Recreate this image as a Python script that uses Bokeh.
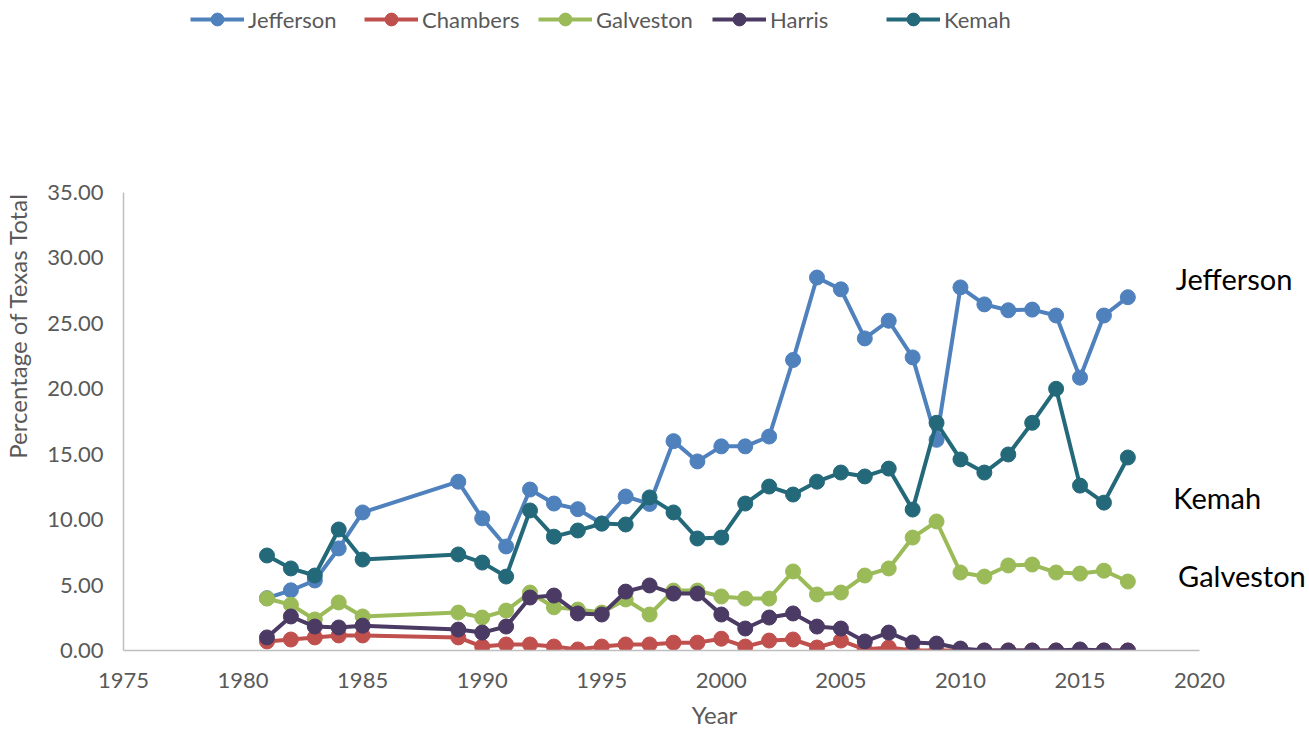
from bokeh.plotting import figure
from bokeh.models import Range1d, FixedTicker, NumeralTickFormatter, Legend, LegendItem, Label
from bokeh.embed import file_html
from bokeh.resources import INLINE

years = [1981, 1982, 1983, 1984, 1985, 1989, 1990, 1991, 1992, 1993, 1994, 1995, 1996, 1997,
         1998, 1999, 2000, 2001, 2002, 2003, 2004, 2005, 2006, 2007, 2008, 2009, 2010, 2011,
         2012, 2013, 2014, 2015, 2016, 2017]

jefferson = [4.0, 4.6, 5.35, 7.8, 10.55, 12.9, 10.1, 7.95, 12.3, 11.23, 10.8, 9.7, 11.77, 11.2,
             16.0, 14.45, 15.6, 15.6, 16.35, 22.2, 28.5, 27.6, 23.85, 25.2, 22.4, 16.1, 27.75, 26.45,
             26.0, 26.05, 25.6, 20.85, 25.6, 27.0]
chambers = [0.69, 0.84, 1.0, 1.15, 1.15, 1.0, 0.3, 0.46, 0.46, 0.3, 0.08, 0.3, 0.46, 0.46,
            0.6, 0.6, 0.9, 0.3, 0.76, 0.84, 0.23, 0.76, 0.08, 0.23, 0.0, 0.0, 0.0, 0.0,
            0.0, 0.0, 0.0, 0.0, 0.0, 0.0]
galveston = [3.97, 3.5, 2.37, 3.67, 2.6, 2.9, 2.52, 3.05, 4.43, 3.3, 3.13, 2.9, 3.9, 2.75,
             4.58, 4.58, 4.13, 3.97, 3.97, 6.04, 4.28, 4.43, 5.73, 6.27, 8.63, 9.86, 5.96, 5.65,
             6.5, 6.57, 5.96, 5.88, 6.1, 5.27]
harris = [1.0, 2.6, 1.83, 1.76, 1.9, 1.6, 1.37, 1.83, 4.05, 4.2, 2.83, 2.75, 4.5, 4.97,
          4.35, 4.35, 2.75, 1.68, 2.52, 2.83, 1.83, 1.68, 0.69, 1.37, 0.61, 0.53, 0.15, 0.0,
          0.0, 0.0, 0.0, 0.08, 0.0, 0.0]
kemah = [7.26, 6.27, 5.73, 9.25, 6.95, 7.34, 6.72, 5.65, 10.7, 8.7, 9.17, 9.7, 9.63, 11.7,
         10.55, 8.56, 8.63, 11.23, 12.53, 11.92, 12.9, 13.6, 13.3, 13.9, 10.77, 17.4, 14.6, 13.6,
         14.98, 17.4, 20.0, 12.6, 11.3, 14.75]

series_names = ["Jefferson", "Chambers", "Galveston", "Harris", "Kemah"]
series_values = [jefferson, chambers, galveston, harris, kemah]
series_colors = ["#4F81BD", "#C0504D", "#9BBB59", "#4B3A63", "#24697A"]

end_labels = ["Jefferson", "Kemah", "Galveston"]
end_label_x = [2019.0, 2018.9, 2019.1]
end_label_y = [28.4, 11.7, 5.7]

x_ticks = [1975, 1980, 1985, 1990, 1995, 2000, 2005, 2010, 2015, 2020]
y_ticks = [0, 5, 10, 15, 20, 25, 30, 35]

FONT = "Lato"
GREY = "#595959"

# frame: left edge = 1975, axis drawn to 2020; frame extends right/up to hold the
# end labels and the legend
W, H = 1305, 731
LEFT, BOTTOM = 122, 81
FRAME_W, FRAME_H = W - LEFT, H - BOTTOM
PX_PER_YEAR = 1077 / 45.0
PX_PER_UNIT = 458 / 35.0
x_end = 1975 + FRAME_W / PX_PER_YEAR
y_end = FRAME_H / PX_PER_UNIT

p = figure(width=W, height=H, output_backend="svg", toolbar_location=None,
           x_range=Range1d(1975, x_end), y_range=Range1d(0, y_end),
           min_border_left=LEFT, min_border_top=0, min_border_right=0, min_border_bottom=BOTTOM)
p.outline_line_color = None
p.xgrid.grid_line_color = None
p.ygrid.grid_line_color = None

items = []
for name, vals, col in zip(series_names, series_values, series_colors):
    r1 = p.line(years, vals, line_color=col, line_width=4)
    r2 = p.scatter(years, vals, size=15, fill_color=col, line_color=col, marker="circle")
    items.append(LegendItem(label=name, renderers=[r1, r2]))

legend = Legend(items=items, orientation="horizontal", location=(67, FRAME_H - 35),
                border_line_color=None, background_fill_alpha=0, padding=0, margin=0,
                spacing=4, glyph_width=54, glyph_height=32, label_standoff=4, label_width=112,
                label_text_font=FONT, label_text_font_size="22px", label_text_color=GREY)
p.add_layout(legend, "center")

for ax in (p.xaxis[0], p.yaxis[0]):
    ax.axis_line_color = "#BFBFBF"
    ax.axis_line_width = 1.5
    ax.major_tick_line_color = None
    ax.minor_tick_line_color = None
    ax.major_tick_out = 0
    ax.major_tick_in = 0
    ax.major_label_text_font = FONT
    ax.major_label_text_font_size = "22px"
    ax.major_label_text_color = GREY
    ax.axis_label_text_font = FONT
    ax.axis_label_text_font_size = "24px"
    ax.axis_label_text_color = GREY
    ax.axis_label_text_font_style = "normal"

p.xaxis.bounds = (1975, 2020)
p.yaxis.bounds = (0, 35)
p.xaxis.ticker = FixedTicker(ticks=x_ticks)
p.yaxis.ticker = FixedTicker(ticks=y_ticks)
p.yaxis.formatter = NumeralTickFormatter(format="0.00")
p.xaxis.axis_label = "Year"
p.yaxis.axis_label = "Percentage of Texas Total"
p.xaxis.major_label_standoff = 22
p.yaxis.major_label_standoff = 20
p.xaxis.axis_label_standoff = 9
p.yaxis.axis_label_standoff = 12

for txt, xv, yv in zip(end_labels, end_label_x, end_label_y):
    p.add_layout(Label(x=xv, y=yv, text=txt, text_baseline="middle",
                       text_font=FONT, text_font_size="29px", text_color="#000000"))

open("out.html", "w").write(file_html(p, INLINE))
